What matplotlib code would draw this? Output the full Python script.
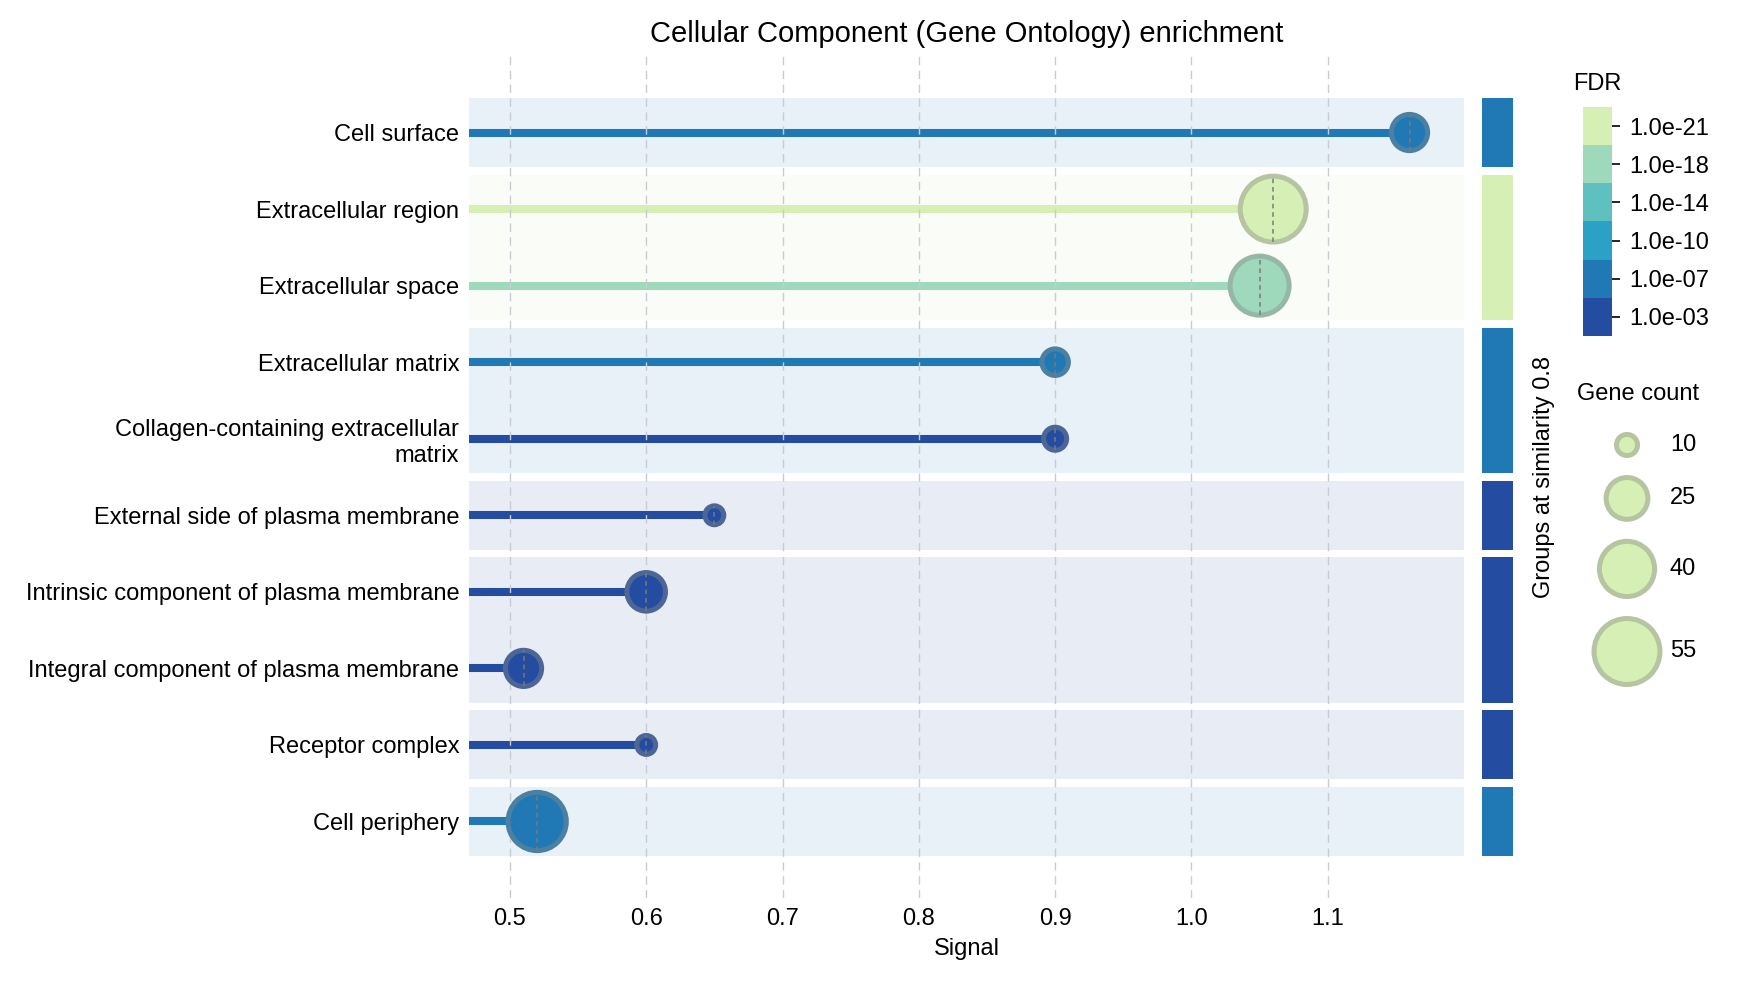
import numpy as np
import matplotlib
matplotlib.use("Agg")
from matplotlib import pyplot as plt
from matplotlib.colors import ListedColormap, BoundaryNorm, to_rgb
from matplotlib.colorbar import ColorbarBase

plt.rcParams['font.family'] = ['Liberation Sans', 'DejaVu Sans']

terms = [
    "Cell surface",
    "Extracellular region",
    "Extracellular space",
    "Extracellular matrix",
    "Collagen-containing extracellular\nmatrix",
    "External side of plasma membrane",
    "Intrinsic component of plasma membrane",
    "Integral component of plasma membrane",
    "Receptor complex",
    "Cell periphery",
]
signal = [1.16, 1.06, 1.05, 0.90, 0.90, 0.65, 0.60, 0.51, 0.60, 0.52]
gene_count = [20, 55, 45, 13, 11, 9, 22, 20, 9, 44]
fdr = [2.1e-7, 8.0e-22, 1.5e-18, 3.2e-7, 1.1e-3, 2.4e-3, 6.5e-4, 9.8e-4, 3.0e-3, 4.6e-7]
groups = [0, 1, 1, 2, 2, 3, 4, 4, 5, 6]

fdr_labels = ["1.0e-03", "1.0e-07", "1.0e-10", "1.0e-14", "1.0e-18", "1.0e-21"]
fdr_cuts = [5, 8.5, 12, 16, 19.5]   # -log10 bin edges
palette = ["#244ca0", "#2079b5", "#2ba1c6", "#5fc0c0", "#9fd9bb", "#d6efb4"]
legend_counts = [10, 25, 40, 55]

FS = 17
DPI = 100
EDGE_LW = 3.6


def marker_size(n):
    return np.maximum(45.0 * np.asarray(n, dtype=float) - 220, 30)


def edge_of(c):
    r = np.array(to_rgb(c))
    return tuple(0.58 * r + 0.42 * 0.537)


level = np.digitize(-np.log10(fdr), fdr_cuts)
colors = [palette[i] for i in level]
n_rows = len(terms)
y = np.arange(n_rows)

W, H = 1750, 982
fig = plt.figure(figsize=(W / DPI, H / DPI), dpi=DPI)
ax = fig.add_axes([0.268, 0.0855, 0.5686, 0.8575])
gax = fig.add_axes([0.847, 0.0855, 0.0177, 0.8575])
cax = fig.add_axes([0.9046, 0.658, 0.0166, 0.233])

xmin, xmax = 0.47, 1.2

# group bands
for g in sorted(set(groups)):
    rows = [i for i in range(n_rows) if groups[i] == g]
    gcol = palette[max(level[i] for i in rows)]
    top, bot = min(rows) - 0.45, max(rows) + 0.45
    ax.axhspan(top, bot, color=gcol, alpha=0.1, lw=0, zorder=0)
    gax.axhspan(top, bot, color=gcol, lw=0)

ax.set_xlim(xmin, xmax)
ax.set_ylim(n_rows, -1)
ax.set_xticks([0.5, 0.6, 0.7, 0.8, 0.9, 1.0, 1.1])
ax.grid(axis='x', color='#c8ccd2', ls=(0, (6, 4)), lw=1, zorder=1)
ax.set_axisbelow(False)

# stems and dots
ax.hlines(y, xmin, signal, colors=colors, lw=5.8, zorder=2)
s = marker_size(gene_count)
ax.scatter(signal, y, s=s, c=colors, edgecolors=[edge_of(c) for c in colors],
           linewidths=EDGE_LW, zorder=3)
ax.scatter(signal, y, s=s, marker='|', c='#7a7a7a', linewidths=1.1,
           linestyles=(0, (3, 2.5)), zorder=4)

ax.set_yticks(y)
ax.set_yticklabels(terms, fontsize=FS, multialignment='right')
ax.tick_params(axis='both', length=0, labelsize=FS)
ax.tick_params(axis='y', pad=7)
ax.tick_params(axis='x', pad=7)
for sp in ax.spines.values():
    sp.set_visible(False)
ax.set_xlabel("Signal", fontsize=FS, labelpad=6)
ax.set_title("Cellular Component (Gene Ontology) enrichment", fontsize=21, pad=10)

gax.set_ylim(n_rows, -1)
gax.set_xlim(0, 1)
gax.set_xticks([])
gax.set_yticks([])
for sp in gax.spines.values():
    sp.set_visible(False)
gax.yaxis.set_label_position('right')
gax.set_ylabel("Groups at similarity 0.8", fontsize=FS, labelpad=14)

# FDR colorbar
cmap = ListedColormap(palette)
norm = BoundaryNorm(np.arange(len(palette) + 1), cmap.N)
cb = ColorbarBase(cax, cmap=cmap, norm=norm)
cb.set_ticks(np.arange(len(palette)) + 0.5)
cb.set_ticklabels(fdr_labels)
cb.outline.set_visible(False)
cax.minorticks_off()
cax.tick_params(labelsize=FS, length=6, width=1.2, pad=6)
cax.set_title("FDR", fontsize=FS, pad=12)

# gene count legend, laid out in pixel units
lax = fig.add_axes([0, 0, 1, 1])
lax.set_xlim(0, W)
lax.set_ylim(H, 0)
lax.axis('off')
lax.text(1638, 394, "Gene count", fontsize=FS, ha='center', va='center')
leg_s = marker_size(legend_counts)
radius = (np.sqrt(leg_s) + EDGE_LW) / 2 * DPI / 72
cy = [445.0]
for i in range(1, len(legend_counts)):
    cy.append(cy[-1] + radius[i - 1] + radius[i] + 17)
lax.scatter([1627] * len(legend_counts), cy, s=leg_s, c=palette[-1],
            edgecolors=[edge_of(palette[-1])], linewidths=EDGE_LW)
for n, yy in zip(legend_counts, cy):
    lax.text(1670, yy, str(n), fontsize=FS, ha='left', va='center')

fig.savefig("out.png", dpi=DPI)
